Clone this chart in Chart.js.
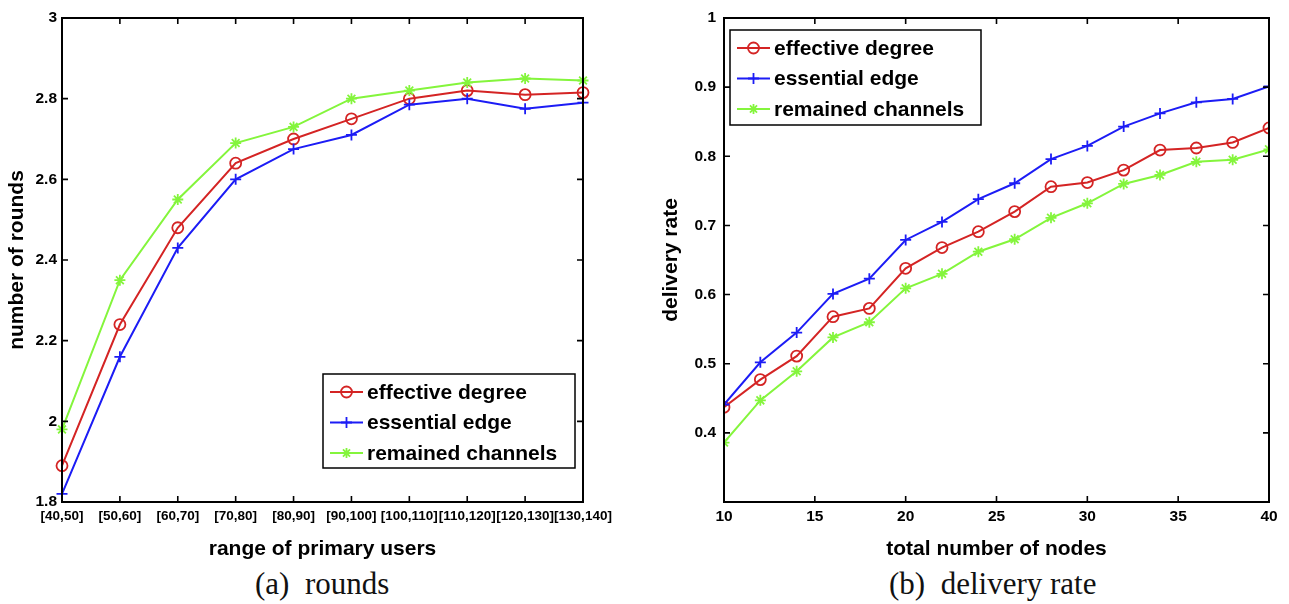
<!DOCTYPE html>
<html>
<head>
<meta charset="utf-8">
<script src="https://cdn.jsdelivr.net/npm/chart.js@4.4.1/dist/chart.umd.min.js"></script>
<style>
  body { margin: 0; background: #fff; width: 1289px; height: 604px; position: relative; overflow: hidden; }
  canvas { position: absolute; top: 0; }
  #c1 { left: 0; }
  #c2 { left: 645px; }
  .cap { position: absolute; top: 566px; font-family: "Liberation Serif", "Times New Roman", serif; font-size: 31px; white-space: pre; color: #111; }
</style>
</head>
<body>
<canvas id="c1" width="640" height="562"></canvas>
<canvas id="c2" width="644" height="562"></canvas>
<div class="cap" style="left:255px">(a)  rounds</div>
<div class="cap" style="left:889px">(b)  delivery rate</div>
<script>
// ---- data ----
var primaryRanges = ["[40,50]", "[50,60]", "[60,70]", "[70,80]", "[80,90]", "[90,100]", "[100,110]", "[110,120]", "[120,130]", "[130,140]"];
var roundsEffective = [1.89, 2.24, 2.48, 2.64, 2.70, 2.75, 2.80, 2.82, 2.81, 2.815];
var roundsEssential = [1.82, 2.16, 2.43, 2.60, 2.675, 2.71, 2.785, 2.80, 2.775, 2.79];
var roundsRemained  = [1.98, 2.35, 2.55, 2.69, 2.73, 2.80, 2.82, 2.84, 2.85, 2.845];

var nodeCounts   = [10, 12, 14, 16, 18, 20, 22, 24, 26, 28, 30, 32, 34, 36, 38, 40];
var rateEffective = [0.437, 0.477, 0.511, 0.568, 0.580, 0.638, 0.668, 0.691, 0.720, 0.756, 0.762, 0.780, 0.809, 0.812, 0.820, 0.841];
var rateEssential = [0.441, 0.502, 0.545, 0.601, 0.623, 0.679, 0.705, 0.738, 0.761, 0.796, 0.815, 0.843, 0.862, 0.878, 0.883, 0.901];
var rateRemained  = [0.386, 0.447, 0.489, 0.538, 0.560, 0.609, 0.630, 0.662, 0.680, 0.711, 0.732, 0.760, 0.773, 0.792, 0.795, 0.810];

var seriesNames = ["effective degree", "essential edge", "remained channels"];

var RED = "#d42424", BLUE = "#1c1cf5", GREEN = "#84f53c";
var FONT = "'Liberation Sans', Arial, Helvetica, sans-serif";

Chart.defaults.font.family = FONT;
Chart.defaults.font.weight = "bold";
Chart.defaults.color = "#000";

function xy(xs, ys) {
  var out = [];
  for (var i = 0; i < xs.length; i++) out.push({ x: xs[i], y: ys[i] });
  return out;
}

function fmt(v) { return String(+v.toFixed(1)); }

function drawMarker(ctx, style, x, y, color) {
  ctx.save();
  ctx.strokeStyle = color;
  ctx.lineWidth = 1.8;
  ctx.beginPath();
  if (style === "circle") {
    ctx.arc(x, y, 5.5, 0, Math.PI * 2);
  } else if (style === "cross") {
    ctx.moveTo(x - 5.5, y); ctx.lineTo(x + 5.5, y);
    ctx.moveTo(x, y - 5.5); ctx.lineTo(x, y + 5.5);
  } else {
    var r = 5;
    for (var a = 0; a < 4; a++) {
      var ang = a * Math.PI / 4;
      ctx.moveTo(x - r * Math.cos(ang), y - r * Math.sin(ang));
      ctx.lineTo(x + r * Math.cos(ang), y + r * Math.sin(ang));
    }
  }
  ctx.stroke();
  ctx.restore();
}

// matlab style frame: box, inward ticks on all four sides, legend box inside the axes
var matlabFrame = {
  id: "matlabFrame",
  afterDraw: function (chart, args, opts) {
    var ctx = chart.ctx, a = chart.chartArea;
    var xs = chart.scales.x, ys = chart.scales.y;
    ctx.save();
    ctx.strokeStyle = "#000";
    ctx.lineWidth = 1.6;
    var L = 6;
    ctx.beginPath();
    xs.ticks.forEach(function (t, i) {
      var px = xs.getPixelForTick(i);
      ctx.moveTo(px, a.bottom); ctx.lineTo(px, a.bottom - L);
      ctx.moveTo(px, a.top); ctx.lineTo(px, a.top + L);
    });
    ys.ticks.forEach(function (t, i) {
      var py = ys.getPixelForTick(i);
      ctx.moveTo(a.left, py); ctx.lineTo(a.left + L, py);
      ctx.moveTo(a.right, py); ctx.lineTo(a.right - L, py);
    });
    ctx.stroke();
    ctx.lineWidth = 2;
    ctx.strokeRect(a.left, a.top, a.right - a.left, a.bottom - a.top);

    // legend
    var lg = opts.legend;
    ctx.fillStyle = "#fff";
    ctx.fillRect(lg.x, lg.y, lg.w, lg.h);
    ctx.lineWidth = 1.5;
    ctx.strokeRect(lg.x, lg.y, lg.w, lg.h);
    ctx.font = "bold 21px " + FONT;
    ctx.textBaseline = "middle";
    chart.data.datasets.slice().sort(function (p, q) { return p.legendIndex - q.legendIndex; }).forEach(function (ds, i) {
      var cy = lg.y + lg.first + i * lg.step;
      ctx.strokeStyle = ds.borderColor;
      ctx.lineWidth = 2;
      ctx.beginPath();
      ctx.moveTo(lg.x + 7, cy); ctx.lineTo(lg.x + 40, cy);
      ctx.stroke();
      drawMarker(ctx, ds.pointStyle, lg.x + 23.5, cy, ds.borderColor);
      ctx.fillStyle = "#000";
      ctx.fillText(ds.label, lg.x + 44, cy + 1);
    });
    ctx.restore();
  }
};

function seriesSet(data, names) {
  var styles = ["circle", "cross", "star"];
  var colors = [RED, BLUE, GREEN];
  return data.map(function (d, i) {
    return {
      label: names[i],
      legendIndex: i,
      order: 2 - i,
      data: d,
      borderColor: colors[i],
      backgroundColor: "rgba(0,0,0,0)",
      pointBorderColor: colors[i],
      pointStyle: styles[i],
      pointRadius: 5.5,
      pointBorderWidth: 1.8,
      borderWidth: 2,
      tension: 0
    };
  });
}

function titleFont() { return { size: 21, weight: "bold" }; }
function tickFont(size) { return { size: size, weight: "bold" }; }

new Chart(document.getElementById("c1"), {
  type: "line",
  data: {
    labels: primaryRanges,
    datasets: seriesSet([roundsEffective, roundsEssential, roundsRemained], seriesNames)
  },
  options: {
    responsive: false,
    animation: false,
    layout: { padding: { left: 0, right: 57, top: 18, bottom: 0 } },
    plugins: {
      legend: { display: false },
      tooltip: { enabled: false },
      matlabFrame: { legend: { x: 323, y: 374, w: 252, h: 94, first: 18, step: 30.5 } }
    },
    scales: {
      x: {
        offset: false,
        grid: { display: false, drawTicks: false },
        border: { display: false },
        ticks: { font: tickFont(13.5), padding: 6, maxRotation: 0, autoSkip: false },
        title: { display: true, text: "range of primary users", font: titleFont(), padding: { top: 0, bottom: 0 } },
        afterFit: function (s) { s.height = 60; }
      },
      y: {
        min: 1.8, max: 3.0,
        grid: { display: false, drawTicks: false },
        border: { display: false },
        ticks: { stepSize: 0.2, font: tickFont(15.5), padding: 5, callback: function (v) { return fmt(v); } },
        title: { display: true, text: "number of rounds", font: titleFont(), padding: { top: 5, bottom: 0 } },
        afterFit: function (s) { s.width = 62; }
      }
    }
  },
  plugins: [matlabFrame]
});

new Chart(document.getElementById("c2"), {
  type: "line",
  data: {
    datasets: seriesSet([xy(nodeCounts, rateEffective), xy(nodeCounts, rateEssential), xy(nodeCounts, rateRemained)], seriesNames)
  },
  options: {
    responsive: false,
    animation: false,
    layout: { padding: { left: 0, right: 20, top: 18, bottom: 0 } },
    plugins: {
      legend: { display: false },
      tooltip: { enabled: false },
      matlabFrame: { legend: { x: 85, y: 30, w: 251, h: 95, first: 18, step: 30.5 } }
    },
    scales: {
      x: {
        type: "linear",
        min: 10, max: 40,
        grid: { display: false, drawTicks: false },
        border: { display: false },
        ticks: { stepSize: 5, font: tickFont(15.5), padding: 5, maxRotation: 0 },
        title: { display: true, text: "total number of nodes", font: titleFont(), padding: { top: 0, bottom: 0 } },
        afterFit: function (s) { s.height = 60; }
      },
      y: {
        min: 0.3, max: 1.0,
        grid: { display: false, drawTicks: false },
        border: { display: false },
        ticks: { stepSize: 0.1, font: tickFont(15.5), padding: 8, callback: function (v) { return v < 0.35 ? "" : fmt(v); } },
        title: { display: true, text: "delivery rate", font: titleFont(), padding: { top: 14, bottom: 0 } },
        afterFit: function (s) { s.width = 79; }
      }
    }
  },
  plugins: [matlabFrame]
});
</script>
</body>
</html>
